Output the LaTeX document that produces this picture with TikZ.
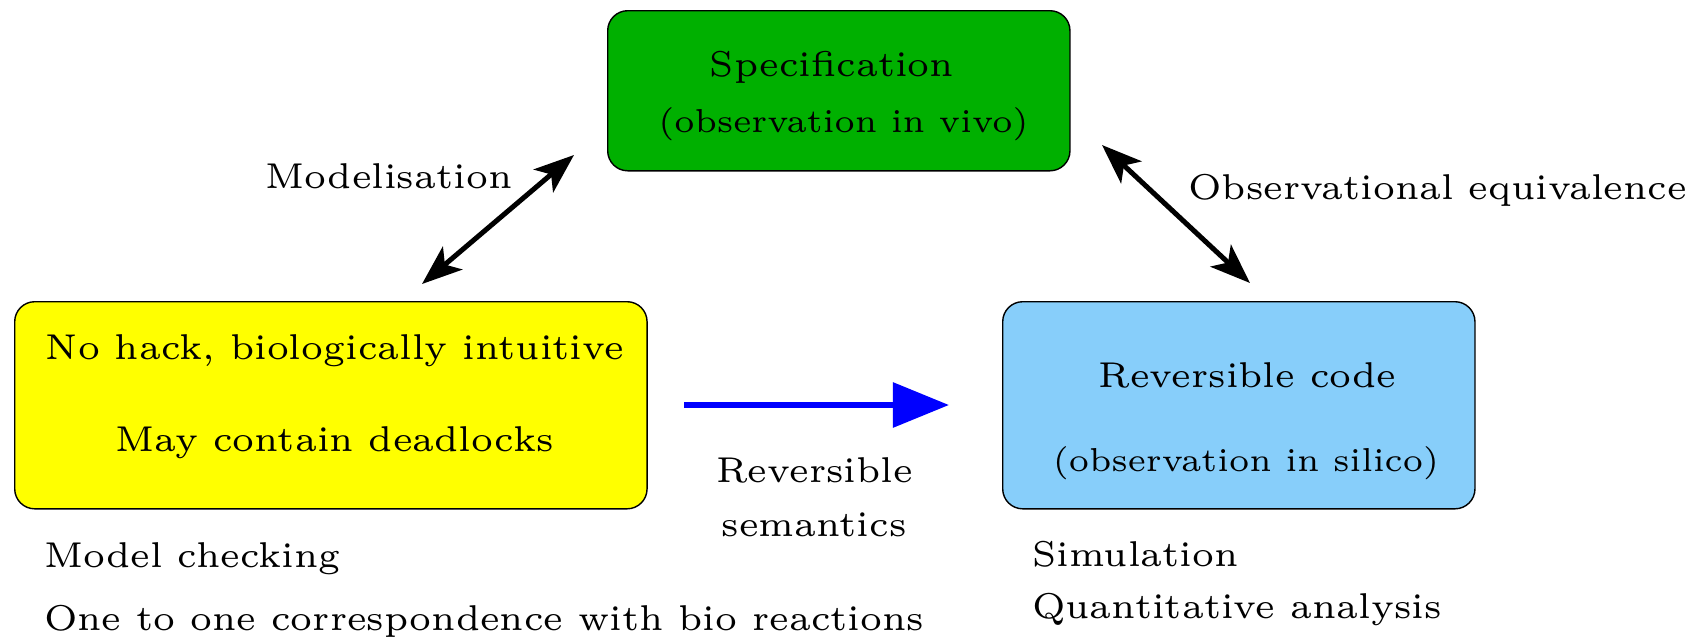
\documentclass[tikz,border=0pt]{standalone}
\usetikzlibrary{arrows.meta}
\definecolor{specgreen}{RGB}{0,176,0}
\definecolor{modelyellow}{RGB}{255,255,0}
\definecolor{codeblue}{RGB}{135,206,250}
\definecolor{arrowblue}{RGB}{0,0,255}
\begin{document}
\begin{tikzpicture}[x=0.01cm,y=-0.01cm,
  box/.style={draw=black, line width=0.4pt, rounded corners=0.2cm, inner sep=0pt, anchor=north west},
  lbl/.style={font=\fontsize{6}{7.2}\selectfont, scale=1.70, transform shape, inner sep=0pt, anchor=base},
  lblsmall/.style={lbl, font=\fontsize{5.55}{6.6}\selectfont},
  lblleft/.style={lbl, anchor=base west},
  twoway/.style={line width=0.05cm,
    {Stealth[length=0.4cm,width=0.3cm,inset=0.1cm]}-{Stealth[length=0.4cm,width=0.3cm,inset=0.1cm]}},
  oneway/.style={line width=0.06cm, arrowblue, -{Triangle[length=0.56cm,width=0.44cm]}}]
\useasboundingbox (0,0) rectangle (1699,639);

% the three boxes
\node[box, fill=specgreen, minimum width=4.62cm, minimum height=1.60cm] (spec) at (607,10) {};
\node[box, fill=modelyellow, minimum width=6.32cm, minimum height=2.07cm] (model) at (14,301) {};
\node[box, fill=codeblue, minimum width=4.72cm, minimum height=2.07cm] (code) at (1002,301) {};

% box contents
\node[lbl] (specA) at (832,76) {Specification};
\node[lblsmall] (specB) at (843.5,132) {(observation in vivo)};
\node[lbl] (modelA) at (335,359) {No hack, biologically intuitive};
\node[lbl] (modelB) at (334.5,451) {May contain deadlocks};
\node[lbl] (codeA) at (1247.5,387) {Reversible code};
\node[lblsmall] (codeB) at (1246,471) {(observation in silico)};

% notes under the boxes
\node[lblleft] (noteA) at (43,567) {Model checking};
\node[lblleft] (noteB) at (43,630) {One to one correspondence with bio reactions};
\node[lblleft] (noteC) at (1031,566) {Simulation};
\node[lblleft] (noteD) at (1031,618) {Quantitative analysis};

% relations between the boxes
\coordinate (modLo) at (422,284);
\coordinate (modHi) at (574,155);
\coordinate (obsHi) at (1102,145);
\coordinate (obsLo) at (1250,283);
\coordinate (semL) at (684,405);
\coordinate (semR) at (949,405);
\draw[twoway] (modLo) -- (modHi);
\draw[twoway] (obsHi) -- (obsLo);
\draw[oneway] (semL) -- (semR);

\node[lbl] (modLbl) at (389,188) {Modelisation};
\node[lbl] (obsLbl) at (1437.5,199) {Observational equivalence};
\node[lbl] (semLblA) at (814.5,482) {Reversible};
\node[lbl] (semLblB) at (814,536) {semantics};
\end{tikzpicture}
\end{document}
